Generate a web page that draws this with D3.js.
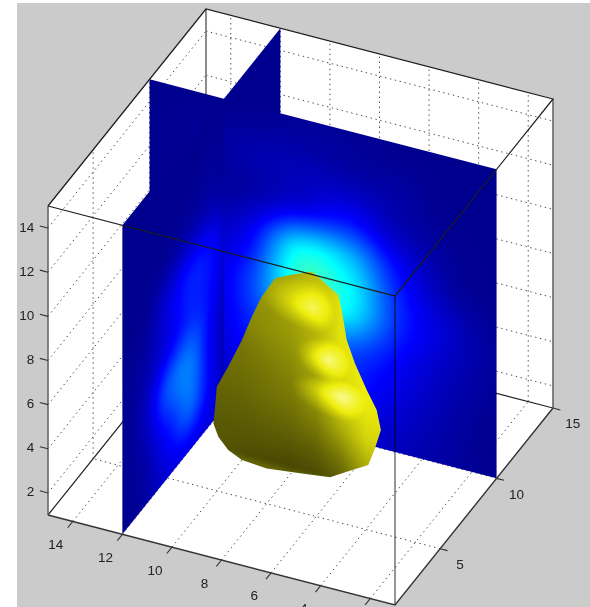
<!DOCTYPE html>
<html><head><meta charset="utf-8">
<script src="https://cdn.jsdelivr.net/npm/d3@7"></script>
<style>html,body{margin:0;padding:0;background:#fff;overflow:hidden}svg{display:block;filter:blur(0.4px)}text{font-family:"Liberation Sans",Arial,sans-serif;font-size:13.5px;fill:#222}</style>
</head><body><svg id="c" width="590" height="607"></svg>
<script>
const xTicks=[2,4,6,8,10,12,14];
const xTickLabels=[4,6,8,10,12,14];
const yTicks=[5,10,15];
const zTicks=[2,4,6,8,10,12,14];
const sliceX=12, sliceY=10, blobY=5;
// slice y=10: rows z=15,13,...,1; cols x=1,3,...,15
const sliceY10=[
[0,0,0,.01,.01,0,0,0],
[0,0,.02,.03,.04,.03,.01,0],
[0,.01,.05,.13,.09,.03,.01,0],
[0,.03,.14,.33,.37,.12,.04,0],
[.01,.07,.17,.37,.40,.18,.05,0],
[.01,.05,.12,.20,.22,.15,.05,0],
[0,.03,.08,.14,.18,.12,.03,0],
[0,.02,.05,.08,.10,.07,.02,0]];
// slice x=12: rows z=15,13,...,1; cols y=1,3,...,15
const sliceX12=[
[0,0,0,0,0,0,0,0],
[0,0,0,0,.01,0,0,0],
[0,0,.01,.03,.03,0,0,0],
[0,.01,.08,.14,.12,.01,0,0],
[0,.03,.10,.16,.12,.01,0,0],
[0,.05,.20,.24,.10,.01,0,0],
[0,.03,.13,.22,.10,.01,0,0],
[0,.02,.08,.10,.08,.01,0,0]];
const blobOutlineX=[6.18,5.92,5.58,5.11,4.97,4.77,4.44,3.96,3.56,3.39,3.63,3.90,4.77,5.44,6.65,8.0,9.0,9.55,9.95,10.15,10.08,10.01,9.55,9.0,8.6,8.2,7.66,7.06,6.59];
const blobOutlineZ=[12.04,11.89,11.62,11.30,10.66,9.36,8.40,7.33,6.54,5.68,4.78,3.95,3.39,2.94,2.77,2.60,2.69,2.98,3.47,4.02,4.79,5.71,6.76,8.12,9.30,10.32,11.31,11.64,11.85];
// blob shading: rows z=12,...,2; cols x=10,9,...,3
const blobShade=[
[.6,.6,.65,.72,.8,.85,.85,.85],
[.6,.62,.68,.72,.82,.95,.95,.95],
[.58,.6,.62,.68,.8,.95,1,1],
[.55,.55,.6,.65,.75,.95,1,1],
[.5,.5,.55,.6,.72,.92,1,1],
[.47,.47,.5,.55,.66,.88,1,1],
[.43,.44,.47,.5,.6,.82,.95,.95],
[.4,.4,.42,.44,.5,.68,.88,.9],
[.37,.37,.37,.37,.4,.52,.74,.82],
[.36,.33,.31,.3,.32,.4,.6,.66],
[.65,.65,.65,.62,.62,.62,.66,.7]];
// highlights: x, z, strength, reach left/right along x, reach up/down along z
const glintX=[6.13,5.52,4.96], glintZ=[10.41,8.23,6.72], glintPeak=[.42,.48,.48];
const glintLeft=[2.1,1.3,2.1], glintRight=[.9,.9,1.0], glintUp=[1.3,1.0,.8], glintDown=[1.1,1.0,1.1];

const sxX=d3.scaleLinear([1,15],[0,-347]), sxY=d3.scaleLinear([1,15],[0,158]);
const syX=d3.scaleLinear([1,15],[0,-90]), syY=d3.scaleLinear([1,15],[0,-197]), syZ=d3.scaleLinear([1,15],[0,-309]);
const P=(x,y,z)=>[395+sxX(x)+sxY(y),605+syX(x)+syY(y)+syZ(z)];
const jet=d3.scaleLinear([0,.125,.375,.625,.875,1],["#00008f","#0000ff","#00ffff","#ffff00","#ff0000","#800000"]).clamp(true);

const svg=d3.select("#c");
svg.append("rect").attr("x",17).attr("y",3).attr("width",573).attr("height",604).attr("fill","#cbcbcb");
const line=d3.line();
svg.append("path").attr("fill","#fff").attr("d",line([P(15,1,15),P(15,15,15),P(1,15,15),P(1,15,1),P(1,1,1),P(15,1,1)])+"Z");

// grid
const gg=svg.append("g").attr("fill","none").attr("stroke","#4a4a4a").attr("stroke-width",1).attr("stroke-dasharray","1.4 3.6");
const seg=(g,a,b)=>g.append("path").attr("d",line([a,b]));
xTicks.forEach(x=>{seg(gg,P(x,1,1),P(x,15,1));seg(gg,P(x,15,1),P(x,15,15));});
yTicks.filter(y=>y<15).forEach(y=>{seg(gg,P(1,y,1),P(15,y,1));seg(gg,P(15,y,1),P(15,y,15));});
zTicks.forEach(z=>{seg(gg,P(15,1,z),P(15,15,z));seg(gg,P(15,15,z),P(1,15,z));});

// back box edges
const back=svg.append("g").attr("fill","none");
back.append("path").attr("d",line([P(15,1,1),P(15,15,1),P(1,15,1)])).attr("stroke","#222").attr("stroke-width",1.2);
back.append("path").attr("d",line([P(15,15,1),P(15,15,15)])).attr("stroke","#666").attr("stroke-width",1.5);

function cr(a,b,c,d,t){return .5*(2*b+(c-a)*t+(2*a-5*b+4*c-d)*t*t+(3*b-a-3*c+d)*t*t*t);}
function sampleCubic(T,fc,fr){
  const R=T.length,C=T[0].length,cl=(v,m)=>Math.max(0,Math.min(m,v));
  const c0=Math.min(Math.floor(fc),C-2),r0=Math.min(Math.floor(fr),R-2),tc=fc-c0,tr=fr-r0,row=[];
  for(let r=-1;r<=2;r++){const rr=T[cl(r0+r,R-1)];
    row.push(cr(rr[cl(c0-1,C-1)],rr[cl(c0,C-1)],rr[cl(c0+1,C-1)],rr[cl(c0+2,C-1)],tc));}
  return Math.max(0,cr(row[0],row[1],row[2],row[3],tr));
}
function placeImage(g,canvas,p00,p10,p01){
  const W=canvas.width,H=canvas.height;
  const m=[(p10[0]-p00[0])/W,(p10[1]-p00[1])/W,(p01[0]-p00[0])/H,(p01[1]-p00[1])/H,p00[0],p00[1]];
  g.append("image").attr("href",canvas.toDataURL()).attr("width",W).attr("height",H)
   .attr("preserveAspectRatio","none").attr("transform","matrix("+m.join(",")+")");
}
function slice(T,u0,u1,proj){
  const W=Math.ceil(Math.abs(u1-u0)*25),H=308;
  const cv=document.createElement("canvas");cv.width=W;cv.height=H;
  const ctx=cv.getContext("2d"),im=ctx.createImageData(W,H);
  for(let j=0;j<H;j++){const z=15-14*(j+.5)/H;
    for(let i=0;i<W;i++){const u=u0+(u1-u0)*(i+.5)/W;
      const c=d3.rgb(jet(sampleCubic(T,(u-1)/2,(15-z)/2))),k=(j*W+i)*4;
      im.data[k]=c.r;im.data[k+1]=c.g;im.data[k+2]=c.b;im.data[k+3]=255;}}
  ctx.putImageData(im,0,0);
  placeImage(svg.append("g"),cv,proj(u0,15),proj(u1,15),proj(u0,1));
}
const onX=(y,z)=>P(sliceX,y,z), onY=(x,z)=>P(x,sliceY,z);
slice(sliceX12,sliceY,15,onX);
slice(sliceY10,sliceX,15,onY);
slice(sliceY10,1,sliceX,onY);
slice(sliceX12,1,sliceY,onX);

// blob
(function(){
  const x0=3,x1=10.5,z0=2,z1=12.5,W=190,H=240;
  const cv=document.createElement("canvas");cv.width=W;cv.height=H;
  const ctx=cv.getContext("2d"),im=ctx.createImageData(W,H);
  const R=blobShade.length,C=blobShade[0].length;
  const bil=(fc,fr)=>{fc=Math.max(0,Math.min(C-1.001,fc));fr=Math.max(0,Math.min(R-1.001,fr));
    const c=Math.floor(fc),r=Math.floor(fr),a=fc-c,b=fr-r;
    return (1-b)*((1-a)*blobShade[r][c]+a*blobShade[r][c+1])+b*((1-a)*blobShade[r+1][c]+a*blobShade[r+1][c+1]);};
  for(let j=0;j<H;j++){const z=z1-(z1-z0)*(j+.5)/H;
    for(let i=0;i<W;i++){const x=x0+(x1-x0)*(i+.5)/W;
      let b=bil(10-x,12-z);
      glintX.forEach((gx,n)=>{
        const dx=x-gx,dz=z-glintZ[n];
        const d=Math.hypot(dx/(dx>0?glintLeft[n]:glintRight[n]),dz/(dz>0?glintUp[n]:glintDown[n]));
        if(d<1)b+=glintPeak[n]*Math.pow(1-d,1.2);});
      const k=(j*W+i)*4;let rg,bl;
      if(b<=1){rg=b*238;bl=b*12;}else{const t=Math.min(1,(b-1)/.5);rg=238+t*17;bl=12+t*190;}
      im.data[k]=rg;im.data[k+1]=rg;im.data[k+2]=bl;im.data[k+3]=255;}}
  ctx.putImageData(im,0,0);
  const pts=blobOutlineX.map((x,i)=>P(x,blobY,blobOutlineZ[i]));
  svg.append("clipPath").attr("id","blobClip").append("path").attr("d",d3.line()(pts)+"Z");
  const g=svg.append("g").attr("clip-path","url(#blobClip)");
  placeImage(g,cv,P(x0,blobY,z1),P(x1,blobY,z1),P(x0,blobY,z0));
})();

// front box edges
const fr=svg.append("g").attr("fill","none");
fr.append("path").attr("d",line([P(1,1,1),P(1,1,15)])).attr("stroke","rgba(0,0,0,.55)").attr("stroke-width",1.5);
fr.append("path").attr("d",line([P(15,1,1),P(15,1,15)])).attr("stroke","#666").attr("stroke-width",1.6);
fr.append("path").attr("d",line([P(1,15,1),P(1,15,15)])).attr("stroke","#666").attr("stroke-width",1.6);
fr.append("path").attr("d",line([P(15,1,15),P(15,15,15),P(1,15,15),P(1,1,15),P(15,1,15)])).attr("stroke","#1c1c1c").attr("stroke-width",1.2);
fr.append("path").attr("d",line([P(15,1,1),P(1,1,1),P(1,15,1)])).attr("stroke","#333").attr("stroke-width",1.4);

// ticks and labels
const tk=svg.append("g").attr("fill","none").attr("stroke","#333").attr("stroke-width",1.1);
const lb=svg.append("g").attr("text-anchor","middle");
xTicks.forEach(x=>seg(tk,P(x,1,1),P(x,.55,1)));
xTickLabels.forEach(x=>{const p=P(x,-.5,1);lb.append("text").attr("x",p[0]).attr("y",p[1]+6.5).text(x);});
yTicks.forEach(y=>{seg(tk,P(1,y,1),P(.7,y,1));const p=P(.2,y,1);lb.append("text").attr("x",p[0]).attr("y",p[1]+15).text(y);});
zTicks.forEach(z=>{seg(tk,P(15,1,z),P(15.33,1,z));const p=P(15.55,1,z);lb.append("text").attr("text-anchor","end").attr("x",p[0]).attr("y",p[1]+7).text(z);});
</script></body></html>
